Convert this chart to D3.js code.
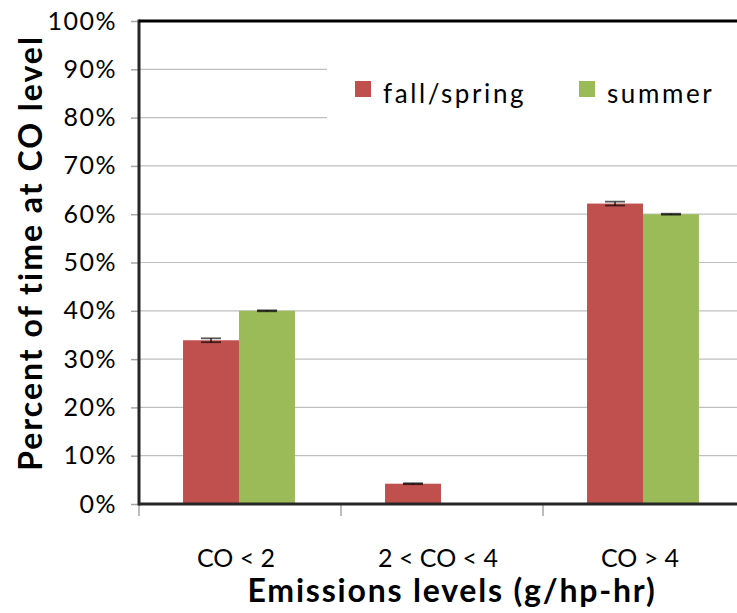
<!DOCTYPE html>
<html>
<head>
<meta charset="utf-8">
<script src="https://cdn.jsdelivr.net/npm/d3@7"></script>
<style>
  body { margin: 0; background: #fff; }
  text { font-family: Lato, "Liberation Sans", sans-serif; fill: #000; }
</style>
</head>
<body>
<svg id="canvas" width="737" height="613"></svg>
<script>
// chart data
let categories = ["CO < 2", "2 < CO < 4", "CO > 4"]
let seriesNames = ["fall/spring", "summer"]
let seriesColors = ["#c0504d", "#9bbb59"]
let fallSpring = [0.339, 0.042, 0.622]
let summer = [0.40, 0.0, 0.60]
let fallSpringErr = [0.004, 0.001, 0.004]
let summerErr = [0.001, 0, 0.001]
let yTicks = [0, 0.1, 0.2, 0.3, 0.4, 0.5, 0.6, 0.7, 0.8, 0.9, 1.0]

let svg = d3.select('#canvas')

let plotLeft = 139, plotRight = 745, plotTop = 21, plotBottom = 504

let y = d3.scaleLinear().domain([0, 1]).range([plotBottom, plotTop])
let x0 = d3.scaleBand().domain(categories).range([plotLeft, plotRight])
let bw = x0.bandwidth()
let x1 = d3.scaleBand().domain(seriesNames).range([0.218 * bw, 0.772 * bw])

// gridlines
svg.append('g')
  .selectAll('line')
  .data(yTicks.slice(1))
  .enter()
  .append('line')
  .attr('x1', plotLeft).attr('x2', plotRight)
  .attr('y1', d => y(d)).attr('y2', d => y(d))
  .attr('stroke', '#bfbfbf')
  .attr('stroke-width', 1.2)

// legend background
svg.append('rect')
  .attr('x', 327).attr('y', 46)
  .attr('width', 420).attr('height', 94)
  .attr('fill', '#fff')

// y axis ticks + labels
let yAxis = d3.axisLeft(y)
  .tickValues(yTicks)
  .tickFormat(d => Math.round(d * 100) + '%')
  .tickSize(8)
  .tickPadding(14)
let gy = svg.append('g')
  .attr('transform', `translate(${plotLeft},0)`)
  .call(yAxis)
gy.select('.domain').remove()
gy.selectAll('.tick line').attr('stroke', '#a6a6a6').attr('stroke-width', 1.5)
gy.selectAll('.tick text')
  .style('font-size', '25px')
  .attr('letter-spacing', '1.5px')
  .attr('fill', '#000')

// bars
let rows = categories.map((c, i) => ({
  cat: c,
  vals: [
    { s: seriesNames[0], v: fallSpring[i], e: fallSpringErr[i], col: seriesColors[0] },
    { s: seriesNames[1], v: summer[i], e: summerErr[i], col: seriesColors[1] }
  ]
}))

let groups = svg.append('g')
  .selectAll('g')
  .data(rows)
  .enter()
  .append('g')
  .attr('transform', d => `translate(${x0(d.cat)},0)`)

groups.selectAll('rect')
  .data(d => d.vals)
  .enter()
  .append('rect')
  .attr('x', d => x1(d.s))
  .attr('width', x1.bandwidth())
  .attr('y', d => y(d.v))
  .attr('height', d => y(0) - y(d.v))
  .attr('fill', d => d.col)

// error bars
let errs = groups.selectAll('g.err')
  .data(d => d.vals.filter(v => v.v > 0))
  .enter()
  .append('g')
  .attr('class', 'err')
errs.append('line')
  .attr('x1', d => x1(d.s) + x1.bandwidth() / 2)
  .attr('x2', d => x1(d.s) + x1.bandwidth() / 2)
  .attr('y1', d => y(d.v + d.e))
  .attr('y2', d => y(d.v - d.e))
  .attr('stroke', '#000')
  .attr('stroke-width', 1.2)
errs.selectAll('line.cap')
  .data(d => [d.v + d.e, d.v - d.e].map(t => ({ t: t, d: d })))
  .enter()
  .append('line')
  .attr('class', 'cap')
  .attr('x1', c => x1(c.d.s) + x1.bandwidth() / 2 - 10)
  .attr('x2', c => x1(c.d.s) + x1.bandwidth() / 2 + 10)
  .attr('y1', c => y(c.t))
  .attr('y2', c => y(c.t))
  .attr('stroke', '#000')
  .attr('stroke-opacity', 0.65)
  .attr('stroke-width', 1.8)

// x axis ticks
let xTickPos = categories.map(c => x0(c)).concat([plotRight])
svg.append('g')
  .selectAll('line')
  .data(xTickPos)
  .enter()
  .append('line')
  .attr('x1', d => d).attr('x2', d => d)
  .attr('y1', plotBottom).attr('y2', plotBottom + 12)
  .attr('stroke', '#a6a6a6')
  .attr('stroke-width', 1.5)

// axis lines + top border
svg.append('line')
  .attr('x1', plotLeft).attr('x2', plotRight)
  .attr('y1', plotBottom).attr('y2', plotBottom)
  .attr('stroke', '#262626').attr('stroke-width', 3)
svg.append('line')
  .attr('x1', plotLeft).attr('x2', plotLeft)
  .attr('y1', plotTop - 1.5).attr('y2', plotBottom + 1.5)
  .attr('stroke', '#262626').attr('stroke-width', 3)
svg.append('line')
  .attr('x1', plotLeft).attr('x2', plotRight)
  .attr('y1', plotTop).attr('y2', plotTop)
  .attr('stroke', '#000').attr('stroke-width', 3)

// x category labels
svg.append('g')
  .selectAll('text')
  .data(categories)
  .enter()
  .append('text')
  .attr('x', d => x0(d) + bw / 2 - 4)
  .attr('y', 567)
  .attr('text-anchor', 'middle')
  .style('font-size', '25px')
  .text(d => d)

// axis titles
svg.append('text')
  .attr('x', 452).attr('y', 602)
  .attr('text-anchor', 'middle')
  .style('font-size', '32px')
  .style('font-weight', 'bold')
  .attr('letter-spacing', '1.8px')
  .text('Emissions levels (g/hp-hr)')

svg.append('text')
  .attr('transform', 'translate(42,253) rotate(-90)')
  .attr('text-anchor', 'middle')
  .style('font-size', '32px')
  .style('font-weight', 'bold')
  .attr('letter-spacing', '2px')
  .text('Percent of time at CO level')

// legend
let legend = svg.append('g')
  .selectAll('g')
  .data(seriesNames)
  .enter()
  .append('g')
  .attr('transform', (d, i) => `translate(${[355, 579][i]},81)`)
legend.append('rect')
  .attr('width', 16).attr('height', 16)
  .attr('fill', (d, i) => seriesColors[i])
legend.append('text')
  .attr('x', 28).attr('y', 22)
  .style('font-size', '26px')
  .attr('letter-spacing', '2.6px')
  .text(d => d)
</script>
</body>
</html>
